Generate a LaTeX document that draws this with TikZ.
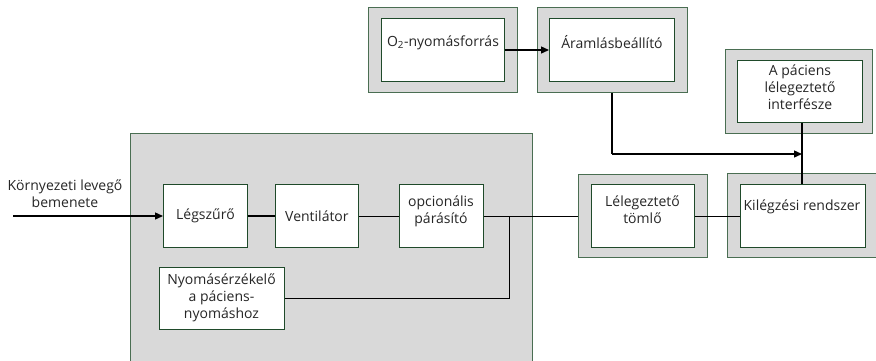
\documentclass[tikz,border=0pt]{standalone}
\usepackage{fontspec}
\setmainfont{Open Sans}
\usetikzlibrary{arrows.meta}
\definecolor{boxgray}{HTML}{D9D9D9}
\definecolor{outerline}{HTML}{4A6E52}
\definecolor{innerline}{HTML}{1F4A2A}
\tikzset{
  outerbox/.style={draw=outerline, fill=boxgray, line width=0.9pt},
  innerbox/.style={draw=innerline, fill=white, line width=0.9pt},
  lbl/.style={font=\fontsize{14}{16.8}\selectfont, align=center, inner sep=0pt, text=black!85},
  conn/.style={draw=black, line width=1pt},
  arr/.style={draw=black, line width=1.4pt, -{Triangle[length=8pt,width=7pt]}},
}
\newcommand{\boxat}[6]{% style, name, x1,y1,x2,y2
  \node[#1, minimum width={#5-#3}, minimum height={#6-#4}, inner sep=0pt, anchor=north west] (#2) at (#3,#4) {};}
\begin{document}
\begin{tikzpicture}[x=1pt,y=-1pt]
\useasboundingbox (0,0) rectangle (876,360);
\begin{scope}
\clip (0,0) rectangle (876,360);
% big housing
\boxat{outerbox}{housing}{130}{133}{532}{370}
\boxat{innerbox}{leg}{163}{184}{247}{247}
\boxat{innerbox}{vent}{275}{184}{358}{247}
\boxat{innerbox}{opc}{399}{184}{483}{247}
\boxat{innerbox}{nyom}{159}{267}{284}{329}
% hose
\boxat{outerbox}{tomloO}{578}{174}{707}{257}
\boxat{innerbox}{tomlo}{591}{184}{694}{247}
% exhalation
\boxat{outerbox}{kilO}{727}{173}{882}{257}
\boxat{innerbox}{kil}{740}{184}{865}{247}
% O2 source
\boxat{outerbox}{otwoO}{368}{7}{517}{92}
\boxat{innerbox}{otwo}{381}{18}{504}{81}
% flow regulator
\boxat{outerbox}{aramO}{537}{7}{687}{92}
\boxat{innerbox}{aram}{549}{18}{674}{81}
% patient interface
\boxat{outerbox}{pacO}{725}{49}{872}{133}
\boxat{innerbox}{pac}{737}{60}{862}{122}

% texts
\node[lbl] (tin) at (65,194) {Környezeti levegő\\bemenete};
\node[lbl] (tleg) at (leg.center) {Légszűrő};
\node[lbl] (tvent) at (vent.center) {Ventilátor};
\node[lbl] (topc) at (441,211) {opcionális\\párásító};
\node[lbl] (tnyom) at (221.5,298) {Nyomásérzékelő\\a páciens-\\nyomáshoz};
\node[lbl] (ttomlo) at (642.5,210) {Lélegeztető\\tömlő};
\node[lbl] (tkil) at (802,207) {Kilégzési rendszer};
\node[lbl] (totwo) at (443,43) {O\textsubscript{2}-nyomásforrás};
\node[lbl] (taram) at (612,42) {Áramlásbeállító};
\node[lbl] (tpac) at (800,87) {A páciens\\lélegeztető\\interfésze};

% connectors
\coordinate (inl) at (13,216);
\coordinate (jn) at (509,216);
\coordinate (bend) at (612,154);
\coordinate (meet) at (802,154);
\draw[arr] (inl) -- (leg.west |- inl);
\draw[conn, line width=1.6pt] (leg.east |- inl) -- (vent.west |- inl);
\draw[conn] (vent.east |- inl) -- (opc.west |- inl);
\draw[conn] (opc.east |- inl) -- (tomloO.west |- inl);
\draw[conn] (tomlo.east |- inl) -- (kil.west |- inl);
\draw[conn] (nyom.east |- 0,298) -| (jn);
\draw[arr] (otwo.east |- 0,50) -- (aram.west |- 0,50);
\draw[conn, line width=1.4pt] (aramO.south -| bend) -- (bend);
\draw[arr] (bend) -- (meet);
\draw[conn, line width=1.4pt] (pac.south -| meet) -- (kil.north -| meet);
\end{scope}
\end{tikzpicture}
\end{document}
